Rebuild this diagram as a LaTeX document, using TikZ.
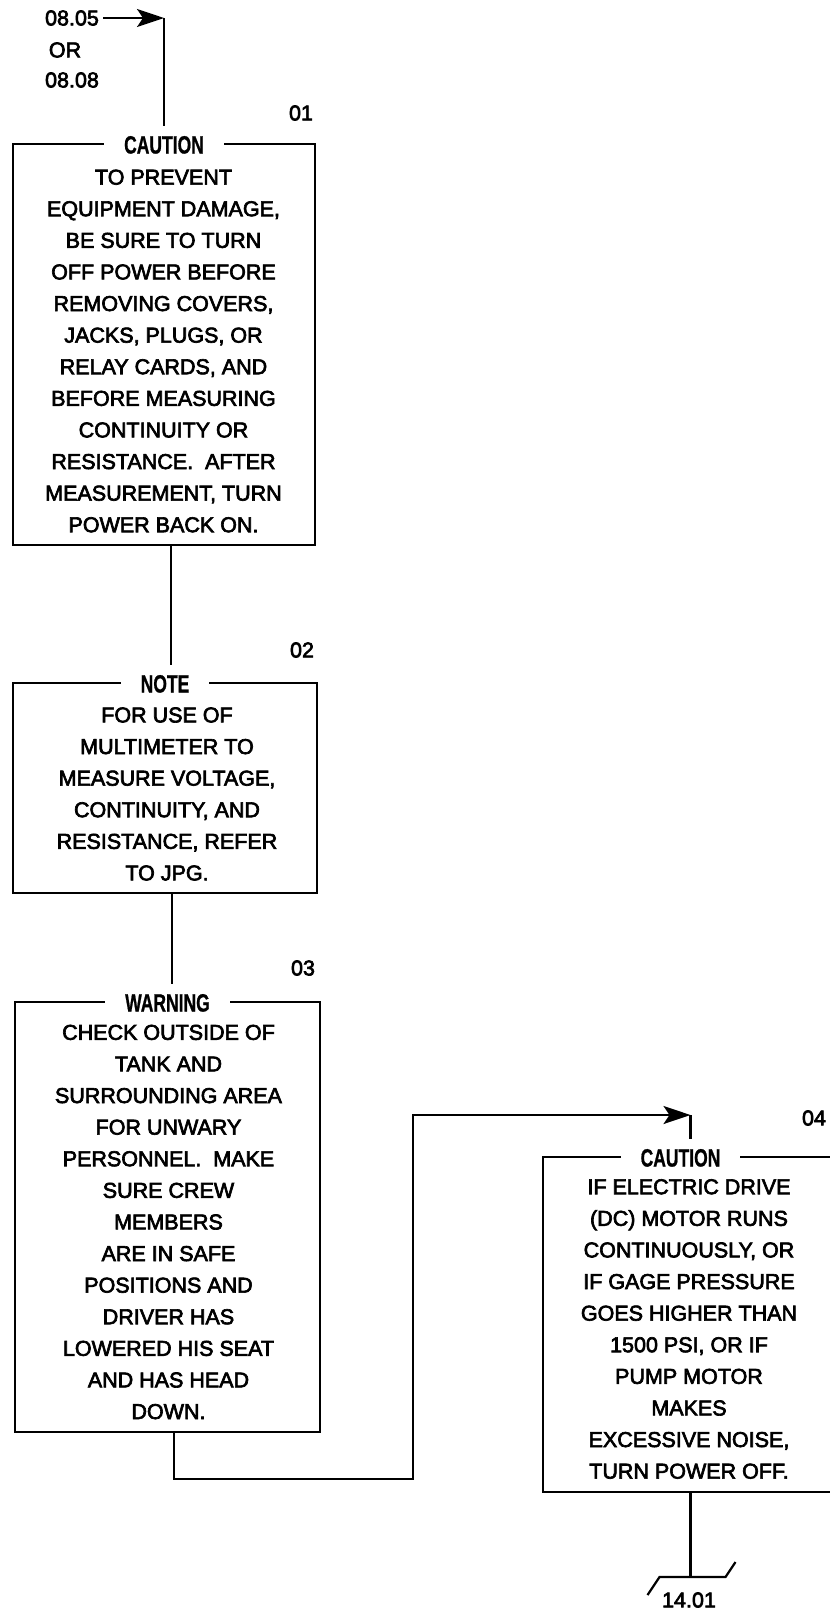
\documentclass[tikz,border=0pt]{standalone}
\usepackage{fontspec}
\setmainfont{Liberation Sans}[FakeBold=3]
\usetikzlibrary{arrows.meta}
\newfontfamily\headfont{Liberation Sans}[FakeBold=1]
\newcommand{\headtxt}[1]{\scalebox{0.7}[1]{\bfseries #1}}
\begin{document}
\begin{tikzpicture}[x=1pt,y=-1pt,line width=2.2pt,
  frame/.style={draw,inner sep=0pt},
  head/.style={fill=white,inner xsep=20pt,inner ysep=1pt,outer ysep=9pt,font=\fontsize{25}{30}\headfont},
  body/.style={align=center,font=\fontsize{21.5}{31.6}\selectfont},
  lbl/.style={font=\fontsize{21.5}{26}\selectfont},
  flow/.style={-{Stealth[length=27pt,width=18pt,inset=6pt]}}]
  \useasboundingbox (0,0) rectangle (830,1610);
  \node[frame,minimum width=302pt,minimum height=401pt] (b1) at (164,344.5) {};
  \node[frame,minimum width=304pt,minimum height=210pt] (b2) at (165,788) {};
  \node[frame,minimum width=305pt,minimum height=430pt] (b3) at (167.5,1217) {};
  \node[frame,minimum width=295pt,minimum height=335pt] (b4) at (690.5,1324.5) {};
  \node[head] (h1) at ([yshift=-2pt]b1.north) {\headtxt{CAUTION}};
  \node[head] (h2) at ([yshift=-2pt]b2.north) {\headtxt{NOTE}};
  \node[head] (h3) at ([yshift=-2pt]b3.north) {\headtxt{WARNING}};
  \node[head] (h4) at ([xshift=-10pt,yshift=-2pt]b4.north) {\headtxt{CAUTION}};
  \node[body] (t1) at (163.5,351) {TO PREVENT\\EQUIPMENT DAMAGE,\\BE SURE TO TURN\\OFF POWER BEFORE\\REMOVING COVERS,\\JACKS, PLUGS, OR\\RELAY CARDS, AND\\BEFORE MEASURING\\CONTINUITY OR\\RESISTANCE.\ \ AFTER\\MEASUREMENT, TURN\\POWER BACK ON.};
  \node[body] (t2) at (167,794) {FOR USE OF\\MULTIMETER TO\\MEASURE VOLTAGE,\\CONTINUITY, AND\\RESISTANCE, REFER\\TO JPG.};
  \node[body] (t3) at (168.5,1222) {CHECK OUTSIDE OF\\TANK AND\\SURROUNDING AREA\\FOR UNWARY\\PERSONNEL.\ \ MAKE\\SURE CREW\\MEMBERS\\ARE IN SAFE\\POSITIONS AND\\DRIVER HAS\\LOWERED HIS SEAT\\AND HAS HEAD\\DOWN.};
  \node[body] (t4) at (689,1329) {IF ELECTRIC DRIVE\\(DC) MOTOR RUNS\\CONTINUOUSLY, OR\\IF GAGE PRESSURE\\GOES HIGHER THAN\\1500 PSI, OR IF\\PUMP MOTOR\\MAKES\\EXCESSIVE NOISE,\\TURN POWER OFF.};
  \node[lbl] (n01) at (301,113) {01};
  \node[lbl] (n02) at (302,650) {02};
  \node[lbl] (n03) at (303,968) {03};
  \node[lbl] (n04) at (814,1118) {04};
  \node[lbl] (n0805) at (72,18) {08.05};
  \node[lbl] (nor) at (65,50) {OR};
  \node[lbl] (n0808) at (72,80) {08.08};
  \node[lbl] (n1401) at (689,1600) {14.01};
  \draw[flow] (n0805.east) -- (n0805.east -| h1.north);
  \draw (n0805.east -| h1.north) -- (h1.north);
  \draw ([xshift=7pt]b1.south) -- ([xshift=7pt]b1.south |- h2.north);
  \draw ([xshift=7pt]b2.south) -- ([xshift=7pt]b2.south |- h3.north);
  \coordinate (low) at (413,1479);
  \coordinate (high) at (413,1115);
  \draw[flow] ([xshift=6.5pt]b3.south) |- (low) -- (high) -- (high -| b4.north);
  \draw (high -| b4.north) -- (b4.north |- h4.north);
  \coordinate (off) at (690.5,1577);
  \draw (b4.south) -- (off);
  \draw (off) ++(-43,18) -- ++(12,-18) -- ++(66,0) -- ++(10,-15);
\end{tikzpicture}
\end{document}
